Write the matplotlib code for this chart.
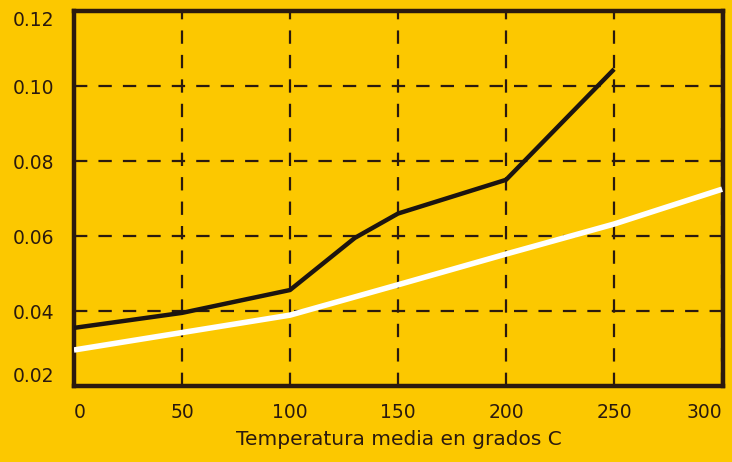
import numpy as np
import matplotlib.pyplot as plt

# Data
black_x = [0, 50, 100, 130, 150, 200, 250]
black_y = [0.0355, 0.0395, 0.0456, 0.0595, 0.066, 0.075, 0.1045]

white_x = [0, 100, 150, 200, 250, 300]
white_y = [0.0296, 0.0389, 0.047, 0.0552, 0.0632, 0.0725]

x_ticks = [0, 50, 100, 150, 200, 250, 300]
y_ticks = [0.02, 0.04, 0.06, 0.08, 0.10, 0.12]

bg = '#fcc800'
ink = '#2b1a0e'

fig = plt.figure(figsize=(7.32, 4.62), dpi=100, facecolor=bg)
ax = fig.add_axes([0.101, 0.1645, 0.887, 0.8115], facecolor=bg)

ax.plot(black_x, black_y, color='#1c1410', lw=3.2, solid_capstyle='butt', zorder=3)
ax.plot(white_x, white_y, color='white', lw=4.0, solid_capstyle='butt', zorder=3)

ax.set_xlim(0, 300.5)
ax.set_ylim(0.02, 0.12)

ax.set_xticks(x_ticks)
ax.set_yticks(y_ticks)
ax.set_xticklabels([str(v) for v in x_ticks])
ax.set_yticklabels(['%.2f' % v for v in y_ticks])
ax.tick_params(length=0, labelsize=13.5, colors=ink)
ax.tick_params(axis='y', pad=14)
ax.tick_params(axis='x', pad=12)
xl = ax.get_xticklabels()
xl[0].set_horizontalalignment('left')
xl[-1].set_horizontalalignment('right')
yl = ax.get_yticklabels()
yl[0].set_verticalalignment('bottom')
yl[-1].set_verticalalignment('top')

ax.grid(True, color=ink, lw=1.6, linestyle=(0, (6, 5)))

for s in ax.spines.values():
    s.set_color(ink)
    s.set_linewidth(3.2)

ax.set_xlabel('Temperatura media en grados C', fontsize=14.5, color=ink, labelpad=6)

fig.savefig('out.png', dpi=100, facecolor=bg)
